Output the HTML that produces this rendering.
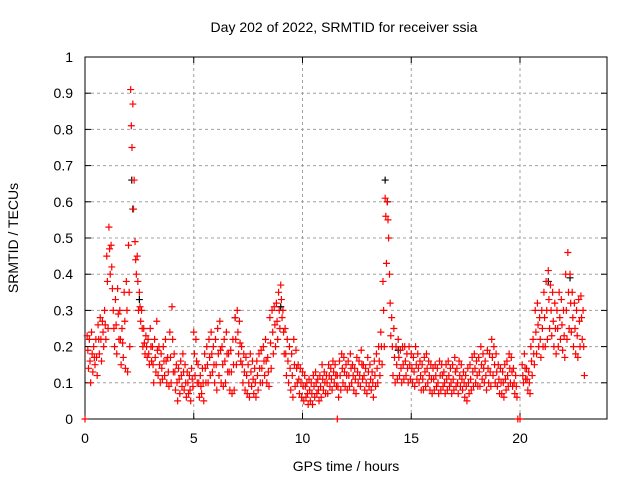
<!DOCTYPE html>
<html><head><meta charset="utf-8"><style>
html,body{margin:0;padding:0;background:#fff;}
svg{display:block;font-family:"Liberation Sans",sans-serif;}
</style></head><body>
<svg id="chart" width="640" height="480" viewBox="0 0 640 480">
<text x="344" y="32" font-size="14" text-anchor="middle" fill="#000">Day 202 of 2022, SRMTID for receiver ssia</text>
<text transform="translate(18,238) rotate(-90)" font-size="14" text-anchor="middle" fill="#000">SRMTID / TECUs</text>
<text x="346" y="471" font-size="14" text-anchor="middle" fill="#000">GPS time / hours</text>
<g id="grid"></g>
<g id="axes"></g>
<g id="marks"></g>
</svg>
<script>
const xTicks=[0,5,10,15,20];
const yTicks=[0,0.1,0.2,0.3,0.4,0.5,0.6,0.7,0.8,0.9,1];
const yTickLabels=["0","0.1","0.2","0.3","0.4","0.5","0.6","0.7","0.8","0.9","1"];
const startHour=0.1, stepHour=0.1;
const highVals=[.23,.22,.24,.2,.22,.26,.28,.27,.3,.45,
.53,.48,.3,.33,.36,.3,.25,.35,.38,.48,
.91,.87,.49,.45,.35,.3,.25,.23,.22,.25,
.2,.22,.27,.2,.18,.2,.22,.17,.24,.31,
.18,.15,.14,.16,.18,.15,.13,.12,.14,.24,
.22,.15,.12,.14,.18,.2,.22,.24,.2,.22,
.25,.27,.2,.22,.24,.18,.19,.22,.28,.3,
.27,.2,.18,.17,.15,.18,.16,.14,.16,.18,
.19,.2,.22,.17,.28,.3,.31,.32,.35,.37,
.3,.25,.22,.2,.18,.22,.19,.15,.14,.13,
.12,.1,.11,.1,.12,.13,.11,.12,.15,.13,
.12,.15,.14,.16,.15,.12,.16,.18,.17,.15,
.16,.18,.15,.14,.17,.16,.19,.15,.14,.17,
.15,.13,.16,.18,.2,.24,.38,.61,.6,.4,
.28,.25,.2,.22,.19,.2,.2,.18,.2,.18,
.17,.2,.18,.16,.15,.17,.18,.16,.15,.14,
.15,.14,.16,.15,.13,.15,.16,.14,.15,.17,
.14,.16,.15,.13,.12,.14,.15,.17,.18,.16,
.17,.2,.18,.16,.19,.18,.22,.2,.18,.15,
.14,.13,.15,.16,.18,.17,.14,.12,null,null,
.15,.18,.14,.13,.2,.22,.3,.32,.28,.3,
.35,.38,.41,.37,.35,.32,.3,.35,.33,.3,
.4,.46,.4,.35,.32,.3,.33,.34,.3];
const midVals=[.19,.16,.18,.17,.17,.22,.22,.24,.26,.38,
.47,.42,.25,.26,.29,.22,.21,.27,.3,.35,
.81,.58,.44,.38,.31,.25,.21,.2,.18,.2,
.15,.17,.19,.15,.14,.16,.16,.13,.17,.22,
.13,.1,.11,.12,.13,.1,.1,.08,.11,.18,
.16,.1,.09,.1,.14,.15,.17,.18,.15,.15,
.18,.19,.15,.16,.18,.13,.13,.15,.22,.24,
.21,.15,.13,.12,.1,.13,.11,.1,.12,.14,
.14,.16,.16,.13,.21,.24,.26,.27,.3,.33,
.24,.18,.16,.14,.12,.15,.14,.11,.1,.09,
.09,.07,.08,.07,.09,.1,.08,.09,.11,.1,
.1,.12,.11,.13,.12,.09,.12,.14,.13,.12,
.12,.14,.12,.11,.13,.12,.15,.12,.1,.13,
.11,.1,.12,.14,.16,.2,.3,.56,.55,.32,
.2,.17,.15,.17,.14,.15,.16,.14,.15,.14,
.13,.15,.14,.12,.11,.13,.14,.12,.11,.11,
.12,.1,.12,.12,.1,.11,.12,.1,.11,.13,
.1,.12,.11,.1,.09,.1,.11,.13,.14,.12,
.13,.15,.14,.12,.14,.13,.17,.15,.13,.11,
.1,.1,.11,.12,.14,.13,.1,.09,null,null,
.12,.14,.11,.1,.16,.18,.24,.26,.22,.25,
.28,.3,.33,.3,.27,.25,.25,.28,.26,.23,
.3,.35,.32,.28,.25,.23,.27,.28,.2];
const lowVals=[.14,.1,.13,.15,.12,.18,.16,.2,.22,.25,
.4,.36,.2,.18,.22,.15,.17,.14,.13,.2,
.75,.66,.4,.3,.27,.2,.18,.17,.15,.16,
.1,.13,.12,.1,.11,.12,.1,.09,.1,.13,
.08,.05,.07,.09,.08,.06,.07,.05,.09,.12,
.1,.06,.07,.05,.1,.1,.12,.13,.1,.08,
.12,.1,.09,.1,.13,.08,.07,.08,.15,.18,
.16,.1,.08,.07,.06,.09,.07,.06,.08,.1,
.1,.12,.1,.09,.14,.18,.2,.22,.25,.28,
.18,.12,.1,.08,.06,.09,.1,.07,.06,.05,
.06,.04,.05,.04,.06,.07,.05,.06,.08,.07,
.07,.09,.08,.1,.09,.06,.08,.1,.09,.08,
.09,.1,.08,.07,.1,.09,.11,.08,.07,.09,
.08,.06,.09,.1,.12,.15,.2,.43,.5,.23,
.12,.1,.11,.12,.1,.11,.12,.1,.11,.1,
.09,.11,.1,.08,.08,.09,.1,.08,.07,.08,
.09,.07,.08,.09,.07,.08,.09,.07,.08,.09,
.07,.09,.08,.06,.05,.07,.08,.09,.1,.09,
.09,.11,.1,.08,.1,.09,.12,.1,.09,.07,
.07,.06,.08,.09,.1,.09,.07,.06,null,null,
.1,.11,.08,.07,.12,.15,.18,.2,.17,.2,
.2,.22,.25,.23,.2,.18,.2,.22,.19,.17,
.22,.25,.24,.2,.18,.17,.2,.22,.12];
const zeroHours=[0,11.6,19.9,20.0];
const blackHours=[2.15,2.2,2.5,13.8,13.9,9.0,21.3,22.3,6.9,14.4];
const blackVals=[.66,.58,.33,.66,.6,.31,.38,.39,.28,.19];

const X0=85,X1=607,Y0=419,Y1=57,XMAX=24;
function xs(h){return X0+(X1-X0)*h/XMAX;}
function ys(v){return Y0-(Y0-Y1)*v;}
const NS="http://www.w3.org/2000/svg";
function mk(tag,attrs,parent){const e=document.createElementNS(NS,tag);for(const k in attrs)e.setAttribute(k,attrs[k]);parent.appendChild(e);return e;}
const grid=document.getElementById('grid'),axes=document.getElementById('axes'),marks=document.getElementById('marks');
yTicks.forEach((v,i)=>{
  const y=ys(v);
  if(i>0&&i<yTicks.length-1){const g=mk('line',{x1:X0,x2:X1,y1:y,y2:y,stroke:'#a0a0a0','stroke-dasharray':'3,3'},grid);
  
  }
  const t=mk('text',{x:X0-12,y:y+5,'font-size':14,'text-anchor':'end',fill:'#000'},axes);
  t.textContent=yTickLabels[i];
  
  
  mk('line',{x1:X0,x2:X0+6,y1:y,y2:y,stroke:'#000'},axes);
  mk('line',{x1:X1,x2:X1-6,y1:y,y2:y,stroke:'#000'},axes);
});
xTicks.forEach(h=>{
  const x=xs(h);
  if(h>0){const g=mk('line',{x1:x,x2:x,y1:Y0,y2:Y1,stroke:'#a0a0a0','stroke-dasharray':'3,3'},grid);
  
  }
  const t=mk('text',{x:x,y:Y0+24,'font-size':14,'text-anchor':'middle',fill:'#000'},axes);
  t.textContent=String(h);
  
  
  mk('line',{x1:x,x2:x,y1:Y0,y2:Y0-6,stroke:'#000'},axes);
  mk('line',{x1:x,x2:x,y1:Y1,y2:Y1+6,stroke:'#000'},axes);
});
const frame=mk('rect',{x:X0,y:Y1,width:X1-X0,height:Y0-Y1,fill:'none',stroke:'#000'},axes);


function plus(h,v,col,name){
  const x=xs(h),y=ys(v);
  const p=mk('path',{d:`M${x-3.5},${y}H${x+3.5}M${x},${y-3.5}V${y+3.5}`,stroke:col,'stroke-width':1.2,fill:'none'},marks);
  
  
}
blackHours.forEach((h,i)=>plus(h,blackVals[i],'#000','black-point'));
highVals.forEach((v,i)=>{if(v!==null)plus(startHour+i*stepHour,v,'#ff0000','srmtid-point-high');});
midVals.forEach((v,i)=>{if(v!==null)plus(startHour+i*stepHour+0.03,v,'#ff0000','srmtid-point-mid');});
lowVals.forEach((v,i)=>{if(v!==null)plus(startHour+i*stepHour+0.06,v,'#ff0000','srmtid-point-low');});
zeroHours.forEach(h=>plus(h,0,'#ff0000','srmtid-point-zero'));
</script>
</body></html>
